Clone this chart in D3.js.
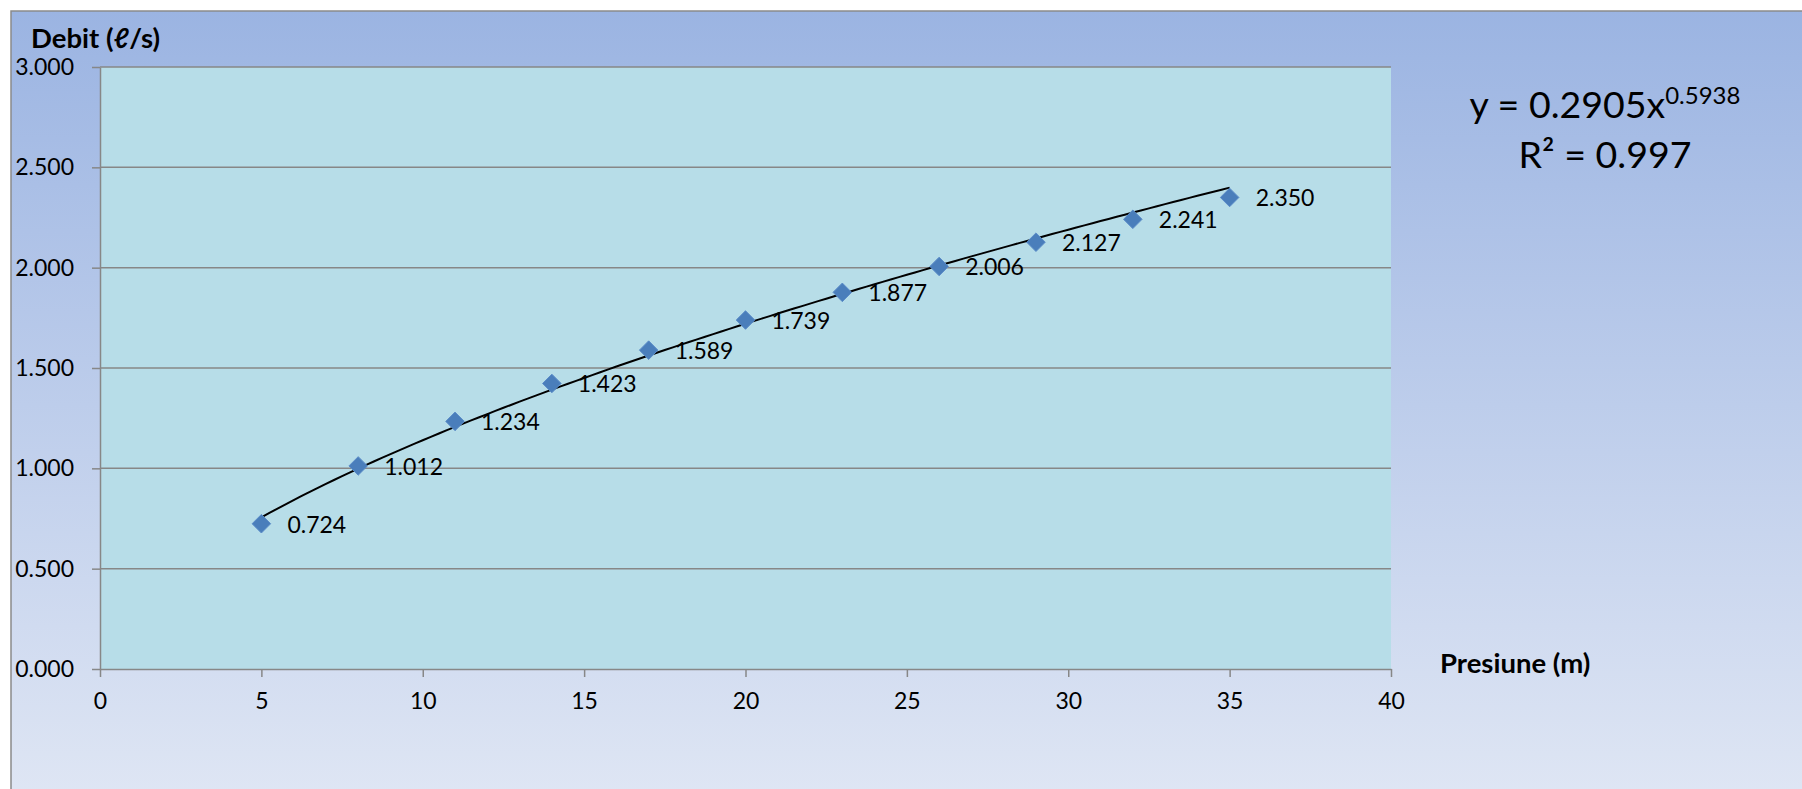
<!DOCTYPE html>
<html><head><meta charset="utf-8">
<script src="https://cdn.jsdelivr.net/npm/d3@7"></script>
<style>html,body{margin:0;padding:0;background:#fff;overflow:hidden}</style>
</head><body>
<script>
const pressures = [5, 8, 11, 14, 17, 20, 23, 26, 29, 32, 35];
const flows = [0.724, 1.012, 1.234, 1.423, 1.589, 1.739, 1.877, 2.006, 2.127, 2.241, 2.350];
const xTicks = [0, 5, 10, 15, 20, 25, 30, 35, 40];
const yTicks = [0, 0.5, 1.0, 1.5, 2.0, 2.5, 3.0];
const fitCoef = 0.2905, fitExp = 0.5938, fitR2 = "0.997";
const yTitle = "Debit (ℓ/s)", xTitle = "Presiune (m)";

const W = 1802, H = 789;
const FONT = "Lato, 'Open Sans', sans-serif";
const svg = d3.select("body").append("svg").attr("width", W).attr("height", H);
const defs = svg.append("defs");
const g = defs.append("linearGradient").attr("id","bg").attr("x1",0).attr("y1",0).attr("x2",0).attr("y2",1);
g.append("stop").attr("offset","0%").attr("stop-color","#9bb4e2");
g.append("stop").attr("offset","100%").attr("stop-color","#dfe6f4");

svg.append("rect").attr("x",11).attr("y",11).attr("width",W).attr("height",H)
  .attr("fill","url(#bg)").attr("stroke","#8a8a8a").attr("stroke-width",1.5);

const L = 100, R = 1391, T = 67, B = 669;
const x = d3.scaleLinear().domain([0, 40]).range([L, R]);
const y = d3.scaleLinear().domain([0, 3]).range([B, T]);

svg.append("rect").attr("x",L).attr("y",T).attr("width",R-L).attr("height",B-T).attr("fill","#b7dde8");

// gridlines
svg.append("g").selectAll("line").data(yTicks.filter(d=>d>0)).join("line")
  .attr("x1",L).attr("x2",R).attr("y1",d=>y(d)).attr("y2",d=>y(d))
  .attr("stroke","#878787").attr("stroke-width",1.5);

// axes
const yAxis = svg.append("g").attr("transform",`translate(${L},0)`)
  .call(d3.axisLeft(y).tickValues(yTicks).tickFormat(d3.format(".3f")).tickSize(8).tickSizeOuter(0).tickPadding(18));
const xAxis = svg.append("g").attr("transform",`translate(0,${B})`)
  .call(d3.axisBottom(x).tickValues(xTicks).tickSize(8).tickSizeOuter(0).tickPadding(16));
[yAxis, xAxis].forEach(a => {
  a.select(".domain").attr("stroke","#878787").attr("stroke-width",1.5);
  a.selectAll(".tick line").attr("stroke","#878787").attr("stroke-width",1.5);
  a.selectAll("text").attr("font-family",FONT).attr("font-size",23).attr("fill","#000");
});

// trendline
const fitX = d3.range(5, 35.001, 0.25);
svg.append("path").datum(fitX)
  .attr("d", d3.line().x(d=>x(d)).y(d=>y(fitCoef*Math.pow(d,fitExp))))
  .attr("fill","none").attr("stroke","#000").attr("stroke-width",2);

// markers
const data = pressures.map((p,i)=>({p, q: flows[i]}));
svg.append("g").selectAll("path").data(data).join("path")
  .attr("transform", d=>`translate(${x(d.p)},${y(d.q)})`)
  .attr("d", d3.symbol(d3.symbolDiamond2, 220)())
  .attr("fill","#4a7ebb").attr("stroke","#5b8cc8").attr("stroke-width",1);

// data labels
svg.append("g").selectAll("text").data(data).join("text")
  .attr("x", d=>x(d.p)+26).attr("y", d=>y(d.q)+9)
  .attr("font-family",FONT).attr("font-size",23).attr("fill","#000")
  .text(d=>d3.format(".3f")(d.q));

// titles
svg.append("text").attr("x",31).attr("y",48).attr("font-family",FONT).attr("font-weight","bold")
  .attr("font-size",27.5).text(yTitle);
svg.append("text").attr("x",1440).attr("y",673).attr("font-family",FONT).attr("font-weight","bold")
  .attr("font-size",27.5).text(xTitle);

// equation
const eq = svg.append("text").attr("x",1605).attr("y",118).attr("text-anchor","middle")
  .attr("font-family",FONT).attr("font-size",37.5).attr("fill","#000");
eq.append("tspan").text(`y = ${fitCoef}x`);
eq.append("tspan").attr("dy",-14).attr("font-size",24).text(fitExp);
svg.append("text").attr("x",1605).attr("y",168).attr("text-anchor","middle")
  .attr("font-family",FONT).attr("font-size",37.5).attr("fill","#000").text(`R² = ${fitR2}`);
</script>
</body></html>
